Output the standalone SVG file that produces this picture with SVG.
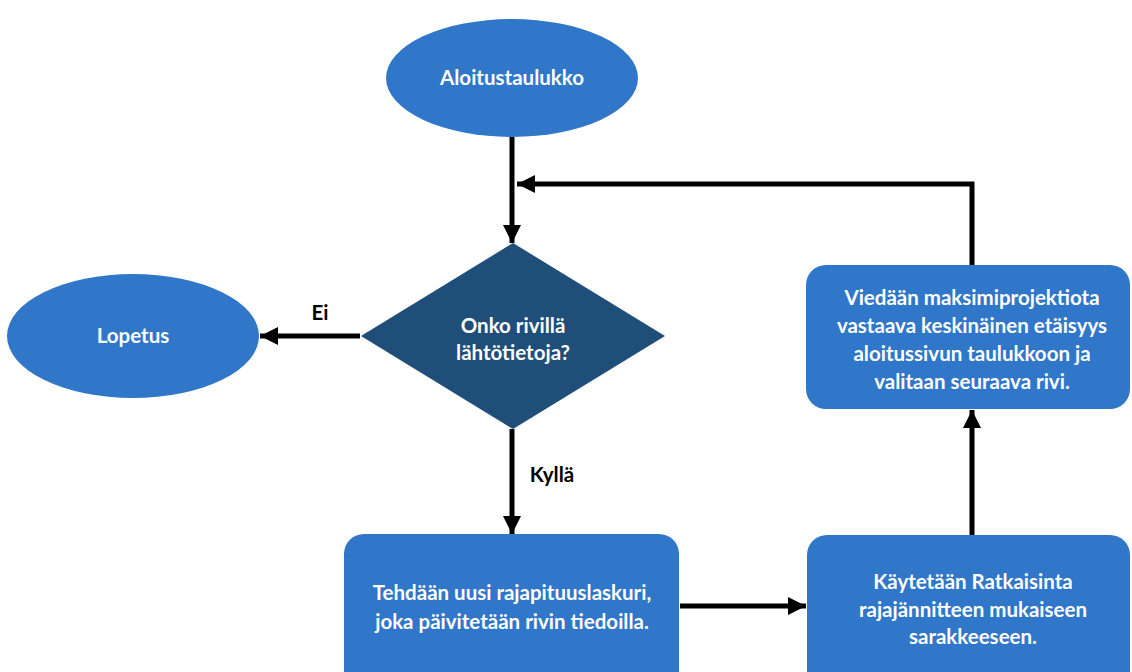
<svg xmlns="http://www.w3.org/2000/svg" width="1132" height="672" viewBox="0 0 1132 672">
  <defs>
    <marker id="arrow" viewBox="0 0 10 10" refX="10" refY="5" markerWidth="3.6" markerHeight="3.6" markerUnits="strokeWidth" orient="auto">
      <path d="M0,0 L10,5 L0,10 Z" fill="#000"/>
    </marker>
    <style>
      .oval { fill: #3076C9; }
      .box { fill: #3076C9; }
      .decision { fill: #1F4E79; }
      .lbl { font-family: Lato, "Liberation Sans", sans-serif; font-weight: bold; font-size: 20.5px; fill: #fff; text-anchor: middle; }
      .edge { font-family: Lato, "Liberation Sans", sans-serif; font-weight: bold; font-size: 20.5px; fill: #000; text-anchor: middle; }
      .conn { stroke: #000; stroke-width: 5; fill: none; }
    </style>
  </defs>
  <rect width="1132" height="672" fill="#fff"/>

  <g id="connectors">
    <line class="conn" x1="512" y1="137" x2="512" y2="243" marker-end="url(#arrow)"/>
    <line class="conn" x1="360" y1="336" x2="260" y2="336" marker-end="url(#arrow)"/>
    <line class="conn" x1="512" y1="429" x2="512" y2="534" marker-end="url(#arrow)"/>
    <line class="conn" x1="680" y1="606" x2="806" y2="606" marker-end="url(#arrow)"/>
    <line class="conn" x1="972" y1="536" x2="972" y2="410" marker-end="url(#arrow)"/>
    <polyline class="conn" points="972,266 972,184 517,184" marker-end="url(#arrow)"/>
    <text class="edge" x="320" y="320">Ei</text>
    <text class="edge" x="552" y="482">Kyllä</text>
  </g>

  <g id="start">
    <ellipse class="oval" cx="512" cy="78" rx="126" ry="59"/>
    <text class="lbl" x="512" y="85">Aloitustaulukko</text>
  </g>

  <g id="end">
    <ellipse class="oval" cx="133" cy="336" rx="126" ry="62"/>
    <text class="lbl" x="133" y="343">Lopetus</text>
  </g>

  <g id="decision">
    <polygon class="decision" points="513,243 665,336 513,429 361,336"/>
    <text class="lbl" x="513" y="333">Onko rivillä</text>
    <text class="lbl" x="513" y="360">lähtötietoja?</text>
  </g>

  <g id="counter">
    <rect class="box" x="344" y="534" width="335" height="160" rx="20"/>
    <text class="lbl" x="512" y="600">Tehdään uusi rajapituuslaskuri,</text>
    <text class="lbl" x="512" y="629">joka päivitetään rivin tiedoilla.</text>
  </g>

  <g id="solver">
    <rect class="box" x="807" y="535" width="323" height="160" rx="20"/>
    <text class="lbl" x="973" y="589">Käytetään Ratkaisinta</text>
    <text class="lbl" x="973" y="617">rajajännitteen mukaiseen</text>
    <text class="lbl" x="973" y="644">sarakkeeseen.</text>
  </g>

  <g id="export">
    <rect class="box" x="806" y="265" width="324" height="144" rx="20"/>
    <text class="lbl" x="972" y="305">Viedään maksimiprojektiota</text>
    <text class="lbl" x="972" y="333">vastaava keskinäinen etäisyys</text>
    <text class="lbl" x="972" y="361">aloitussivun taulukkoon ja</text>
    <text class="lbl" x="972" y="389">valitaan seuraava rivi.</text>
  </g>
</svg>
